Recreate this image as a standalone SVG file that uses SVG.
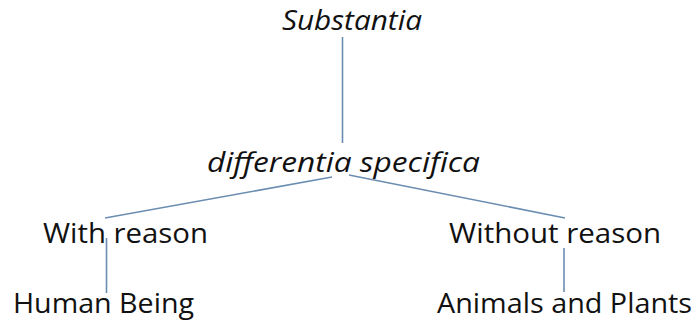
<svg xmlns="http://www.w3.org/2000/svg" width="696" height="323" viewBox="0 0 696 323">
<style>
text{font-family:"Open Sans","Noto Sans","Liberation Sans",sans-serif;fill:#111;font-size:28px}
.it{font-style:italic}
.c line{stroke:#6b8db2;stroke-width:1.6}
</style>
<rect width="696" height="323" fill="#fff"/>
<g class="c" id="connectors">
<line x1="342.5" y1="37" x2="342.5" y2="143"/>
<line x1="332" y1="177" x2="105" y2="218"/>
<line x1="349" y1="175" x2="565" y2="218"/>
<line x1="106.5" y1="238" x2="106.5" y2="293"/>
<line x1="564" y1="248" x2="564" y2="292"/>
</g>
<g id="substantia"><text class="it" x="282" y="30" font-size="30" textLength="140" lengthAdjust="spacingAndGlyphs">Substantia</text></g>
<g id="differentia"><text class="it" x="207" y="172" textLength="273" lengthAdjust="spacingAndGlyphs">differentia specifica</text></g>
<g id="with"><text x="43" y="243" textLength="165" lengthAdjust="spacingAndGlyphs">With reason</text></g>
<g id="without"><text x="449" y="243" textLength="212" lengthAdjust="spacingAndGlyphs">Without reason</text></g>
<g id="human"><text x="13" y="313" textLength="181" lengthAdjust="spacingAndGlyphs">Human Being</text></g>
<g id="animals"><text x="437" y="313" textLength="255" lengthAdjust="spacingAndGlyphs">Animals and Plants</text></g>
</svg>
